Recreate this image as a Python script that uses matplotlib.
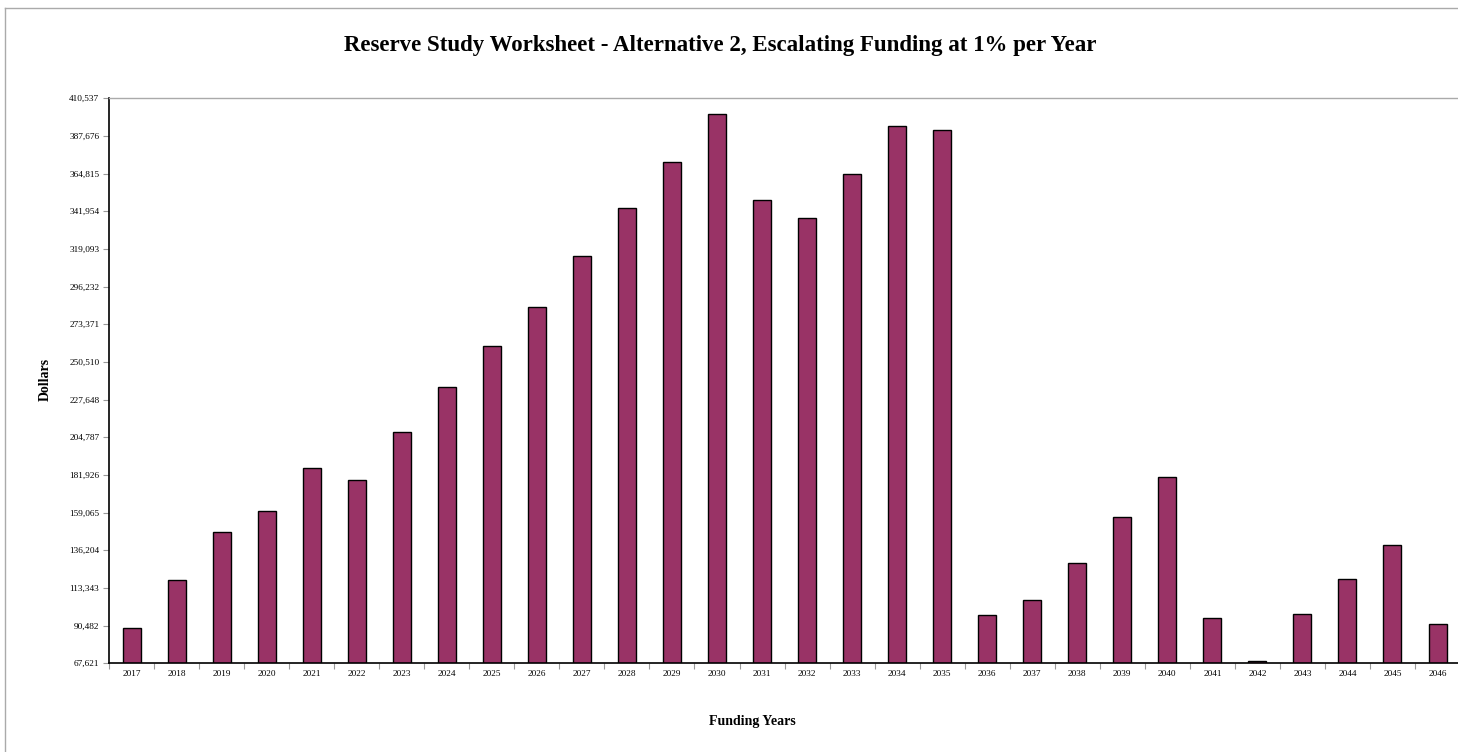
import matplotlib.pyplot as plt
from matplotlib.lines import Line2D
import numpy as np

# Reserve balances
years = [str(y) for y in range(2017, 2047)]
balances = [
    89227, 118176, 147125, 160234, 185967, 179048, 208179, 235125, 260372, 284042,
    314811, 344125, 371678, 400991, 348616, 337874, 364759, 393526, 391099, 96934,
    106038, 128675, 156228, 180869, 95296, 69199, 97541, 118601, 139599, 91472,
]
y_ticks = [67621, 90482, 113343, 136204, 159065, 181926, 204787, 227648,
           250510, 273371, 296232, 319093, 341954, 364815, 387676, 410537]

BAR_COLOR = "#993366"
SERIF = ["Liberation Serif", "DejaVu Serif"]

fig = plt.figure(figsize=(14.58, 7.52), dpi=100)
ax = fig.add_axes([0.0748, 0.118, 0.9266, 0.7513])

x = np.arange(len(years))
ax.bar(x, balances, width=0.4, color=BAR_COLOR, edgecolor="black", linewidth=1.0)

ax.set_xlim(-0.5, len(years) - 0.5)
ax.set_ylim(y_ticks[0], y_ticks[-1])

ax.set_yticks(y_ticks)
ax.set_yticklabels([f"{v:,}" for v in y_ticks], fontsize=6.7, family=SERIF)
ax.set_xticks(x)
ax.set_xticklabels(years, fontsize=6.7, family=SERIF)
ax.tick_params(axis="x", length=0, pad=5)
ax.set_xticks(np.arange(len(years) + 1) - 0.5, minor=True)
ax.tick_params(axis="x", which="minor", length=4, color="#999999", width=0.8)
ax.tick_params(axis="y", length=4, color="#999999", width=0.8, pad=3)

ax.spines["left"].set_color("black")
ax.spines["left"].set_linewidth(1.2)
ax.spines["bottom"].set_color("black")
ax.spines["bottom"].set_linewidth(1.2)
ax.spines["top"].set_color("#aaaaaa")
ax.spines["top"].set_linewidth(1.0)
ax.spines["right"].set_visible(False)

fig.text(0.494, 0.939, "Reserve Study Worksheet - Alternative 2, Escalating Funding at 1% per Year",
         ha="center", va="center", fontsize=16.5, fontweight="bold", family=SERIF)
fig.text(0.031, 0.495, "Dollars", rotation=90, ha="center", va="center",
         fontsize=10, fontweight="bold", family=SERIF)
fig.text(0.516, 0.040, "Funding Years", ha="center", va="center",
         fontsize=10, fontweight="bold", family=SERIF)

# outer chart-area border (only left and top edges show in the frame)
fig.add_artist(Line2D([5 / 1458, 5 / 1458], [0, 1 - 8 / 752], color="#aaaaaa", lw=1.0))
fig.add_artist(Line2D([5 / 1458, 1], [1 - 8 / 752, 1 - 8 / 752], color="#aaaaaa", lw=1.0))

fig.savefig("out.png", dpi=100)
